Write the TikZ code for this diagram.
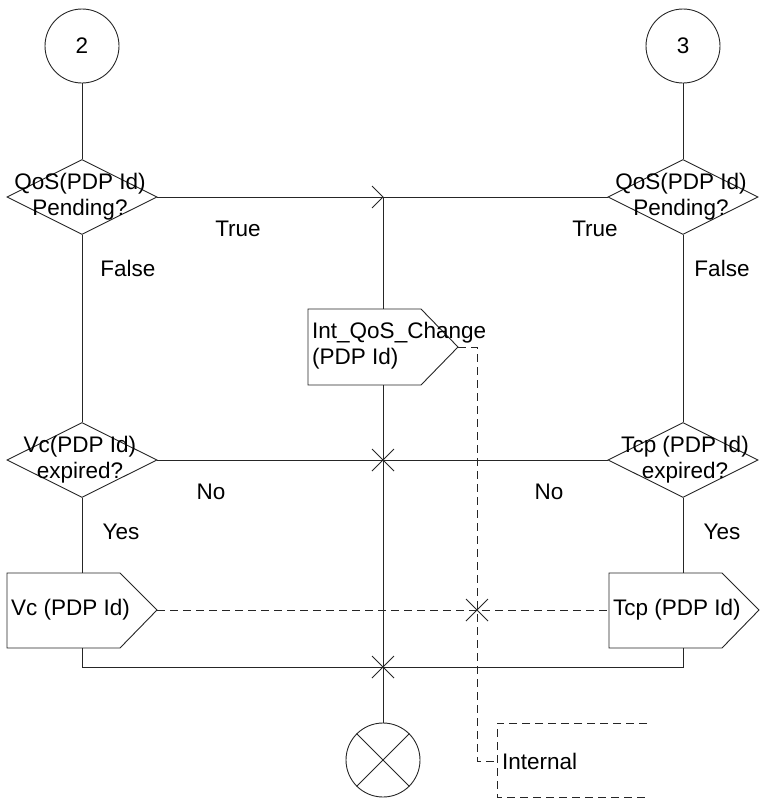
\documentclass[tikz,border=0pt]{standalone}
\usepackage{fontspec}
\setmainfont{Liberation Sans}
\usetikzlibrary{shapes.geometric,calc}
\begin{document}
\begin{tikzpicture}[x=1pt,y=-1pt,
  every node/.style={font=\fontsize{22.5}{26}\selectfont},
  ln/.style={draw=black!85,line width=0.9pt},
  dsh/.style={ln,dash pattern=on 8pt off 5pt},
  conn/.style={draw=black!85,line width=0.9pt,circle,minimum size=74pt,inner sep=0pt},
  dec/.style={draw=black!85,line width=0.9pt,diamond,minimum width=150pt,minimum height=75pt,inner sep=0pt,fill=white},
  lbl/.style={inner sep=0pt,anchor=center},
  txt/.style={inner sep=0pt,anchor=west,align=left}]
\useasboundingbox (0,0) rectangle (761,798);

% connectors (circles)
\node[conn] (c2) at (82,46) {2};
\node[conn] (c3) at (683,46) {3};

% decisions
\node[dec] (d1) at (82,197) {};
\node[dec] (d2) at (683,197) {};
\node[dec] (d3) at (82,460) {};
\node[dec] (d4) at (683,460) {};
\node[lbl,align=center] at (80,197) {QoS(PDP Id)\\Pending?};
\node[lbl,align=center] at (681,197) {QoS(PDP Id)\\Pending?};
\node[lbl,align=center] at (80,460) {Vc(PDP Id)\\expired?};
\node[lbl,align=center] at (685,460) {Tcp (PDP Id)\\expired?};

% signal boxes as coordinates
\coordinate (itop) at (383,309);
\coordinate (ibot) at (383,385);
\coordinate (itip) at (458,347);
\coordinate (vtop) at (82,573);
\coordinate (vbot) at (82,648);
\coordinate (vtip) at (157,610);
\coordinate (ttop) at (683,573);
\coordinate (tbot) at (683,648);
\coordinate (tleft) at (609,610);

\draw[ln,fill=white] (308,309) -- (421,309) -- (itip) -- (421,385) -- (308,385) -- cycle;
\draw[ln,fill=white] (7,573) -- (120,573) -- (vtip) -- (120,648) -- (7,648) -- cycle;
\draw[ln,fill=white] (609,573) -- (722,573) -- (759,610) -- (722,648) -- (609,648) -- cycle;
\node[txt] at (312,346) {Int\_QoS\_Change\\(PDP Id)};
\node[txt] at (11,610) {Vc (PDP Id)};
\node[txt] at (613,610) {Tcp (PDP Id)};

% end symbol
\node[conn] (st) at (383,760) {};
\draw[ln] (st.45) -- (st.225) (st.135) -- (st.315);

% junctions
\coordinate (j1) at (383,197);
\coordinate (j2) at (383,460);
\coordinate (j3) at (383,667);
\coordinate (j4) at (477,610);
\coordinate (jl) at (82,667);
\coordinate (jr) at (683,667);

% solid flow lines
\draw[ln] (c2) -- (d1.north);
\draw[ln] (c3) -- (d2.north);
\draw[ln] (d1.south) -- (d3.north);
\draw[ln] (d2.south) -- (d4.north);
\draw[ln] (d3.south) -- (vtop);
\draw[ln] (d4.south) -- (ttop);
\draw[ln] (vbot) -- (jl) -- (jr) -- (tbot);
\draw[ln] (d1.east) -- (d2.west);
\draw[ln] (d3.east) -- (d4.west);
\draw[ln] (j1) -- (itop);
\draw[ln] (ibot) -- (st.north);
\draw[ln] ($(j1)+(-11,-11)$) -- (j1) -- ($(j1)+(-11,11)$);

% crossings
\foreach \p in {j2,j3,j4}{
  \draw[ln] ($(\p)+(-11,-11)$) -- ($(\p)+(11,11)$);
  \draw[ln] ($(\p)+(-11,11)$) -- ($(\p)+(11,-11)$);
}

% dashed lines
\coordinate (k1) at (477,347);
\coordinate (k2) at (477,761);
\coordinate (k3) at (497,761);
\draw[dsh] (vtip) -- (tleft);
\draw[dsh] (itip) -- (k1) -- (k2) -- (k3);
\draw[dsh] (647,723) -- (497,723) -- (497,797) -- (647,797);
\node[txt] at (502,761) {Internal};

% labels
\node[lbl] at (238,229) {True};
\node[lbl] at (595,229) {True};
\node[lbl] at (128,268) {False};
\node[lbl] at (722,268) {False};
\node[lbl] at (211,492) {No};
\node[lbl] at (549,492) {No};
\node[lbl] at (121,532) {Yes};
\node[lbl] at (722,532) {Yes};
\end{tikzpicture}
\end{document}
